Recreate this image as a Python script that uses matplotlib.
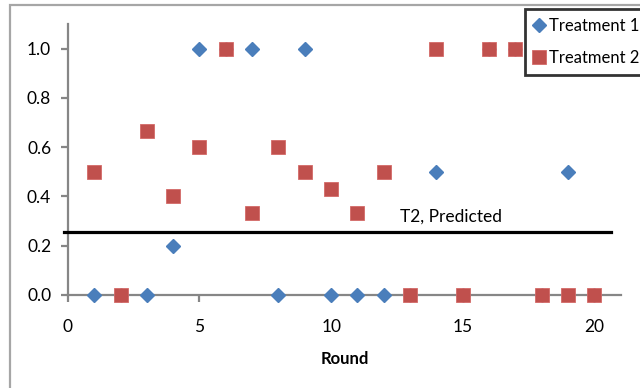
import matplotlib.pyplot as plt
from matplotlib.patches import Rectangle

rounds = list(range(1, 21))
treatment1 = [0, 0, 0, 0.2, 1.0, 1.0, 1.0, 0, 1.0, 0, 0, 0, 0, 0.5, 0, 1.0, 1.0, 0, 0.5, 0]
treatment2 = [0.5, 0, 0.667, 0.4, 0.6, 1.0, 0.333, 0.6, 0.5, 0.429, 0.333, 0.5, 0, 1.0, 0, 1.0, 1.0, 0, 0, 0]
t2_predicted = 0.255

plt.rcParams['font.family'] = ['Lato', 'DejaVu Sans']

fig = plt.figure(figsize=(6.4, 3.88), dpi=100)
ax = fig.add_axes([0.106, 0.2397, 0.864, 0.6985])

blue = '#4a7ebb'
red = '#c0504d'
ax.plot(rounds, treatment1, linestyle='none', marker='D', ms=7.5, color=blue,
        mec=blue, label='Treatment 1', clip_on=False, zorder=3)
ax.plot(rounds, treatment2, linestyle='none', marker='s', ms=10.5, color=red,
        mec='#d46a67', mew=0.6, label='Treatment 2', clip_on=False, zorder=4)

ax.plot([-0.15, 20.62], [t2_predicted, t2_predicted], color='black', lw=2.3,
        clip_on=False, zorder=5)
ax.text(12.6, t2_predicted + 0.03, 'T2, Predicted', fontsize=12.5, va='bottom', ha='left')

ax.set_xlim(0, 21)
ax.set_ylim(0, 1.1)
ax.set_xticks([0, 5, 10, 15, 20])
ax.set_yticks([0, 0.2, 0.4, 0.6, 0.8, 1.0])
ax.set_yticklabels(['0.0', '0.2', '0.4', '0.6', '0.8', '1.0'])

axis_grey = '#868686'
for side in ['top', 'right']:
    ax.spines[side].set_visible(False)
for side in ['left', 'bottom']:
    ax.spines[side].set_color(axis_grey)
    ax.spines[side].set_linewidth(1.6)
ax.tick_params(axis='y', direction='out', length=5, width=1.6, color=axis_grey,
               labelsize=12.5, pad=7)
ax.tick_params(axis='x', direction='out', length=5, width=1.6, color=axis_grey,
               labelsize=12.5, pad=12)
ax.set_xlabel('Round', fontsize=12, fontweight='bold', labelpad=12)

leg = ax.legend(loc='upper left', bbox_to_anchor=(525 / 640, 1 - 9 / 388),
                bbox_transform=fig.transFigure, frameon=True, fancybox=False,
                fontsize=12, handlelength=0.6, handletextpad=0.3,
                borderpad=0.55, labelspacing=0.95, borderaxespad=0)
leg.get_frame().set_edgecolor('black')
leg.get_frame().set_linewidth(2)

# outer chart border
fig.patches.append(Rectangle((10 / 640, -0.1), 1.1, 1 - 5 / 388 + 0.1,
                             transform=fig.transFigure, fill=False,
                             edgecolor='#a6a6a6', lw=1.6))

fig.savefig('out.png', dpi=100)
